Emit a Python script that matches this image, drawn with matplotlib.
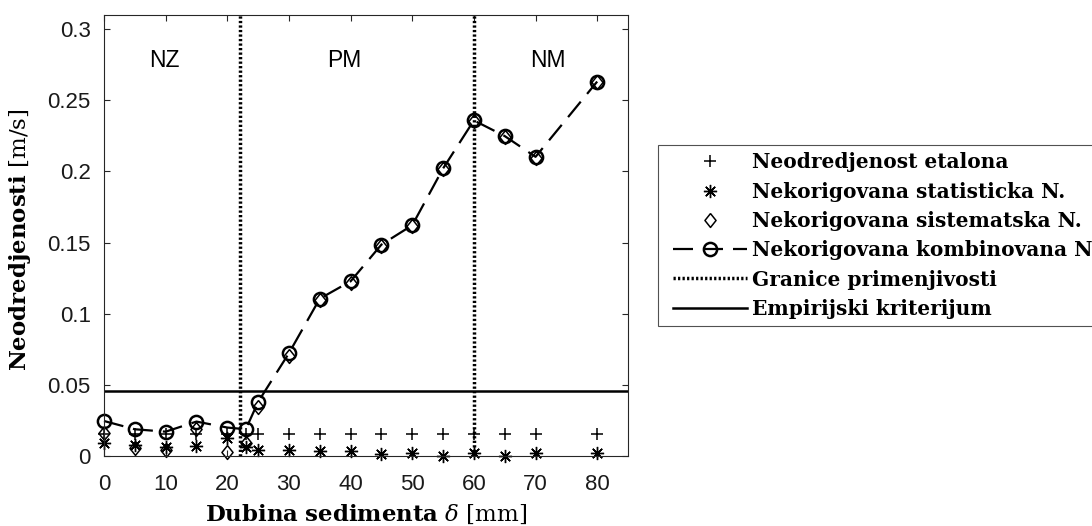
import matplotlib
matplotlib.use("Agg")
import matplotlib.pyplot as plt
from matplotlib.lines import Line2D
from matplotlib.legend_handler import HandlerLine2D

plt.rcParams['mathtext.fontset'] = 'dejavuserif'
plt.rcParams['font.family'] = ['Liberation Sans', 'DejaVu Sans']

# ---- data ----
depth = [0, 5, 10, 15, 20, 23, 25, 30, 35, 40, 45, 50, 55, 60, 65, 70, 80]
etalon = [0.0155, 0.0155, 0.0155, 0.0155, 0.0155, 0.0155, 0.0155, 0.0155, 0.0155,
          0.0155, 0.0155, 0.0155, 0.0155, 0.0155, 0.0155, 0.0155, 0.0155]
statisticka = [0.0089, 0.0077, 0.0066, 0.0073, 0.0127, 0.0066, 0.0042, 0.0042, 0.0037,
               0.0035, 0.0014, 0.0019, 0.0003, 0.0019, 0.0003, 0.0023, 0.0023]
sistematska = [0.0160, 0.0054, 0.0042, 0.0190, 0.0030, 0.0090, 0.0347, 0.0706, 0.1095,
               0.1218, 0.1478, 0.1615, 0.2015, 0.2354, 0.2244, 0.2098, 0.2628]
kombinovana = [0.0246, 0.0188, 0.0171, 0.0242, 0.0200, 0.0188, 0.0380, 0.0723, 0.1106,
               0.1228, 0.1486, 0.1622, 0.2021, 0.2359, 0.2249, 0.2103, 0.2632]
granice = [22, 60]
kriterijum = 0.0455
regions = ['NZ', 'PM', 'NM']
region_x = [9.8, 39, 72]
region_y = 0.278
xticks = [0, 10, 20, 30, 40, 50, 60, 70, 80]
yticks = [0, 0.05, 0.1, 0.15, 0.2, 0.25, 0.3]
ytick_labels = ['0', '0.05', '0.1', '0.15', '0.2', '0.25', '0.3']
legend_labels = ['Neodredjenost etalona',
                 'Nekorigovana statisticka N.',
                 'Nekorigovana sistematska N.',
                 'Nekorigovana kombinovana N.',
                 'Granice primenjivosti',
                 'Empirijski kriterijum']

W, H = 1092, 526
fig = plt.figure(figsize=(W / 100, H / 100), dpi=100)
ax = fig.add_axes([104 / W, 1 - 456 / H, (628 - 104) / W, (456 - 15) / H])

ink = '#262626'
diamond = [(0, 1), (0.8, 0), (0, -1), (-0.8, 0), (0, 1)]
h1, = ax.plot(depth, etalon, ls='none', marker='+', ms=8, mew=1.1, color='k', clip_on=False)
h2, = ax.plot(depth, statisticka, ls='none', marker=(8, 2, 0), ms=9.5, mew=1.0, color='k',
              clip_on=False)
h3, = ax.plot(depth, sistematska, ls='none', marker=diamond, ms=10, mew=1.1, color='k',
              mfc='none', clip_on=False)
h4, = ax.plot(depth, kombinovana, ls=(0, (9, 4.5)), lw=1.6, marker='o', ms=9.5, mew=1.8,
              color='k', mfc='none', clip_on=False)
for g in granice:
    h5 = ax.axvline(g, color='k', lw=2.5, ls=(0, (0.65, 0.65)))
h6 = ax.axhline(kriterijum, color='k', lw=1.8)

for name, rx in zip(regions, region_x):
    ax.text(rx, region_y, name, ha='center', va='center', fontsize=16.5,
            family='Liberation Sans', color='k')

ax.set_xlim(0, 85)
ax.set_ylim(0, 0.31)
ax.set_xticks(xticks)
ax.set_yticks(yticks)
ax.set_yticklabels(ytick_labels)
ax.tick_params(direction='in', length=4, width=0.8, top=True, right=True,
               labelsize=16, colors=ink, labelcolor='#1a1a1a')
ax.tick_params(axis='x', pad=13)
ax.tick_params(axis='y', pad=9.5)
for s in ax.spines.values():
    s.set_color(ink)
    s.set_linewidth(0.8)

ax.set_xlabel(r'$\mathbf{Dubina\ sedimenta}\ \delta\ \mathrm{[mm]}$', fontsize=16.5, va='center')
ax.set_ylabel(r'$\mathbf{Neodredjenosti}\ \mathrm{[m/s]}$', fontsize=16.5, va='center')
ax.xaxis.set_label_coords(0.5, (456 - 514) / 441)
ax.yaxis.set_label_coords((20 - 104) / 524, 0.49)

fs = 14.5
leg = fig.legend([h1, h2, h3, h4, h5, h6], legend_labels,
                 loc='upper left', bbox_to_anchor=(658 / W, 1 - 145 / H),
                 bbox_transform=fig.transFigure, borderaxespad=0,
                 prop={'family': 'DejaVu Serif', 'weight': 'bold', 'size': fs},
                 frameon=True, fancybox=False, edgecolor=ink,
                 handlelength=4.05, handletextpad=0.25, borderpad=0.37,
                 labelspacing=0.46,
                 handler_map={Line2D: HandlerLine2D(xpad=0.37)})
leg.get_frame().set_linewidth(0.8)

fig.savefig('out.png', dpi=100)
